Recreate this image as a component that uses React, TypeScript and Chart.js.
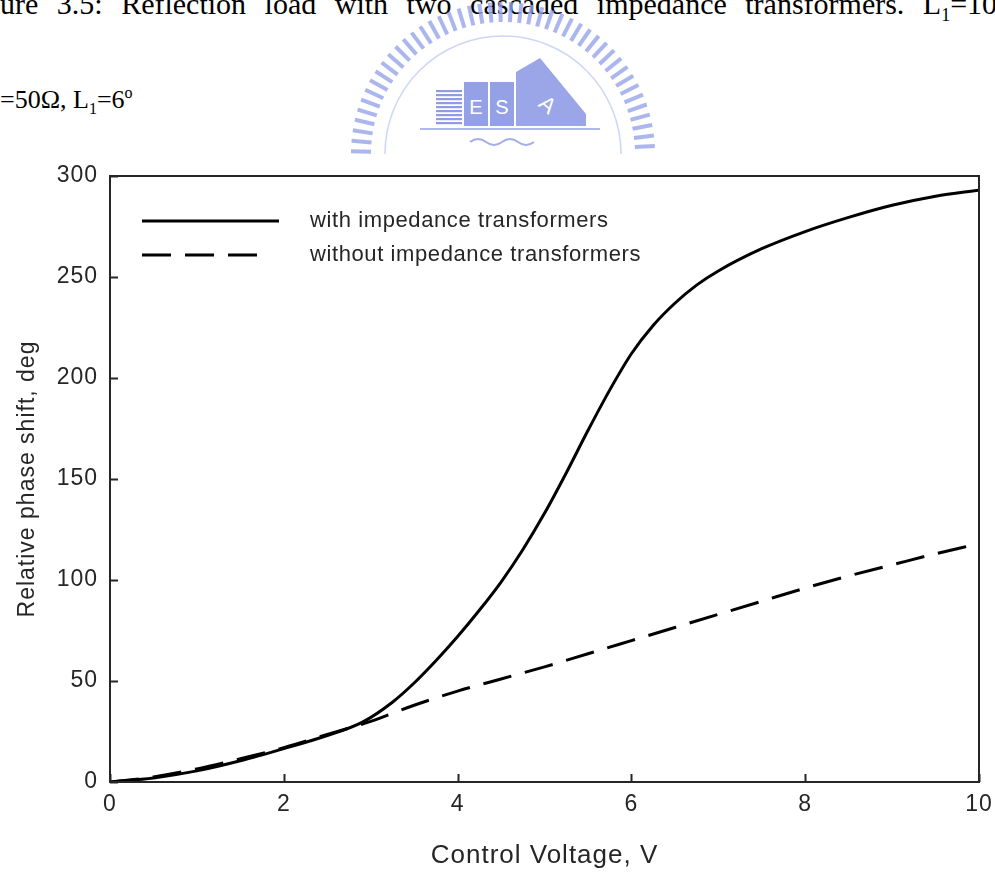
import React, { useEffect, useRef } from "react";
import { Chart, registerables } from "chart.js";

Chart.register(...registerables);

// Phase shift with the two cascaded impedance transformers
const withVoltage = [0, 0.5, 1, 1.5, 2, 2.5, 2.9, 3.25, 3.5, 3.75, 4, 4.25, 4.5, 4.75, 5, 5.25, 5.5, 5.75, 6, 6.25, 6.5, 6.75, 7, 7.5, 8, 8.5, 9, 9.5, 10];
const withPhase = [0, 2, 5.5, 10.5, 16.5, 23, 29.5, 39.5, 49, 60, 72, 85, 99, 115, 133, 153, 174, 194, 212, 226, 237, 246, 253, 264, 272.5, 279.5, 285.5, 290, 293];

// Phase shift of the bare reflection load
const withoutVoltage = [0, 0.5, 1, 1.5, 2, 2.5, 3, 3.5, 4, 4.5, 5, 5.5, 6, 6.5, 7, 7.5, 8, 8.5, 9, 9.5, 10];
const withoutPhase = [0, 2.5, 6.5, 11.5, 17, 23.5, 30, 38, 45, 51, 57, 63.5, 70, 76.5, 83, 89.5, 96, 102, 107.5, 113, 118];

const xTickValues = [0, 2, 4, 6, 8, 10];
const yTickValues = [0, 50, 100, 150, 200, 250, 300];

const seriesNames = ["with impedance transformers", "without impedance transformers"];
const xTitle = "Control Voltage, V";
const yTitle = "Relative phase shift, deg";

const captionTop = "ure 3.5: Reflection load with two cascaded impedance transformers. L";
const captionTopTail = "=10";

const FONT = "'Liberation Sans', Arial, sans-serif";
const INK = "#262626";
const DASH = [29, 14];

const frameAndLegend = {
  id: "frameAndLegend",
  beforeDraw(chart: any) {
    chart.ctx.letterSpacing = "1px";
  },
  afterDraw(chart: any) {
    const { ctx, chartArea: a, scales } = chart;
    ctx.save();
    ctx.strokeStyle = INK;
    ctx.lineWidth = 2;
    ctx.strokeRect(a.left, a.top, a.right - a.left, a.bottom - a.top);

    // tick marks point into the plot
    ctx.beginPath();
    scales.x.ticks.forEach((t: any) => {
      const px = Math.round(scales.x.getPixelForValue(t.value)) + 0.5;
      ctx.moveTo(px, a.bottom);
      ctx.lineTo(px, a.bottom - 8);
    });
    scales.y.ticks.forEach((t: any) => {
      const py = Math.round(scales.y.getPixelForValue(t.value)) + 0.5;
      ctx.moveTo(a.left, py);
      ctx.lineTo(a.left + 8, py);
    });
    ctx.stroke();

    // legend inside the plot, upper left
    const rows = chart.data.datasets;
    const x0 = a.left + 32;
    const rowY = [a.top + 45, a.top + 79];
    const lens = [137, 125];
    rows.forEach((ds: any, i: number) => {
      ctx.beginPath();
      ctx.setLineDash(ds.borderDash || []);
      ctx.lineWidth = ds.borderWidth;
      ctx.strokeStyle = ds.borderColor;
      ctx.moveTo(x0, rowY[i]);
      ctx.lineTo(x0 + lens[i], rowY[i]);
      ctx.stroke();
      ctx.setLineDash([]);
      ctx.fillStyle = INK;
      ctx.font = `22px ${FONT}`;
      ctx.letterSpacing = "0.6px";
      ctx.textAlign = "left";
      ctx.textBaseline = "middle";
      ctx.fillText(ds.label, a.left + 200, rowY[i]);
    });
    ctx.restore();
  },
};

function Logo() {
  const cx = 503;
  const cy = 154;
  const spokes = [];
  for (let deg = 181; deg <= 359; deg += 4) {
    const r = (deg * Math.PI) / 180;
    spokes.push(
      <line
        key={deg}
        x1={cx + Math.cos(r) * 132}
        y1={cy + Math.sin(r) * 132}
        x2={cx + Math.cos(r) * 152}
        y2={cy + Math.sin(r) * 152}
        stroke="#97a5ec"
        strokeWidth={4}
      />
    );
  }
  const stripes = [];
  for (let y = 90; y < 126; y += 4) {
    stripes.push(<rect key={y} x={436} y={y} width={26} height={2.2} fill="#7384dd" />);
  }
  return (
    <svg width={995} height={175} style={{ position: "absolute", left: 0, top: 0, opacity: 0.8 }}>
      {spokes}
      <path d={`M ${cx - 118} ${cy} A 118 118 0 0 1 ${cx + 118} ${cy}`} fill="none" stroke="#c3ccf4" strokeWidth={1.5} />
      {stripes}
      <rect x={464} y={82} width={24} height={44} fill="#7a8ae0" />
      <text x={476} y={114} fontSize={20} fontFamily={FONT} fill="#ffffff" textAnchor="middle">E</text>
      <rect x={490} y={82} width={24} height={44} fill="#7a8ae0" />
      <text x={502} y={114} fontSize={20} fontFamily={FONT} fill="#ffffff" textAnchor="middle">S</text>
      <polygon points="516,72 540,58 586,114 586,126 516,126" fill="#8190e2" />
      <text x={548} y={112} fontSize={22} fontFamily={FONT} fill="#ffffff" textAnchor="middle" transform="rotate(40 548 104)">A</text>
      <line x1={420} y1={129} x2={600} y2={129} stroke="#9aa6ea" strokeWidth={2} />
      <path d="M 470 142 q 8 -6 16 0 t 16 0 t 16 0 t 16 0" fill="none" stroke="#8c9ae6" strokeWidth={2} />
    </svg>
  );
}

export default function App() {
  const canvasRef = useRef<HTMLCanvasElement | null>(null);

  useEffect(() => {
    const canvas = canvasRef.current;
    if (!canvas) return;
    const chart = new Chart(canvas, {
      type: "line",
      data: {
        datasets: [
          {
            label: seriesNames[0],
            data: withVoltage.map((v, i) => ({ x: v, y: withPhase[i] })),
            borderColor: "#000000",
            borderWidth: 3,
            pointRadius: 0,
            cubicInterpolationMode: "monotone",
            fill: false,
          },
          {
            label: seriesNames[1],
            data: withoutVoltage.map((v, i) => ({ x: v, y: withoutPhase[i] })),
            borderColor: "#000000",
            borderWidth: 3,
            borderDash: DASH,
            pointRadius: 0,
            cubicInterpolationMode: "monotone",
            fill: false,
          },
        ],
      },
      options: {
        animation: false,
        responsive: false,
        devicePixelRatio: 1,
        layout: { padding: { top: 176, right: 16, bottom: 0, left: 0 } },
        plugins: { legend: { display: false }, tooltip: { enabled: false } },
        scales: {
          x: {
            type: "linear",
            min: 0,
            max: 10,
            afterBuildTicks: (s: any) => {
              s.ticks = xTickValues.map((v) => ({ value: v }));
            },
            afterFit: (s: any) => {
              s.height = 93;
              s.paddingLeft = 0;
              s.paddingRight = 0;
            },
            grid: { display: false, drawTicks: false },
            border: { display: false },
            ticks: { color: INK, padding: 9, font: { family: FONT, size: 23 } },
            title: {
              display: true,
              text: xTitle,
              color: INK,
              font: { family: FONT, size: 26 },
              padding: { top: 0, bottom: 4 },
            },
          },
          y: {
            type: "linear",
            min: 0,
            max: 300,
            afterBuildTicks: (s: any) => {
              s.ticks = yTickValues.map((v) => ({ value: v }));
            },
            afterFit: (s: any) => {
              s.width = 110;
              s.paddingTop = 0;
              s.paddingBottom = 0;
            },
            grid: { display: false, drawTicks: false },
            border: { display: false },
            ticks: { color: INK, padding: 12, font: { family: FONT, size: 23 } },
            title: {
              display: true,
              text: yTitle,
              color: INK,
              font: { family: FONT, size: 23 },
              padding: { top: 14, bottom: 0 },
            },
          },
        },
      },
      plugins: [frameAndLegend],
    });
    return () => chart.destroy();
  }, []);

  return (
    <div style={{ position: "absolute", left: 0, top: 0, width: 995, height: 875, background: "#ffffff", overflow: "hidden" }}>
      <div
        style={{
          position: "absolute",
          left: 0,
          top: -13,
          fontFamily: "'Liberation Serif', 'Times New Roman', serif",
          fontSize: 30,
          wordSpacing: 11,
          whiteSpace: "nowrap",
          color: "#000",
        }}
      >
        {captionTop}
        <sub style={{ fontSize: 18 }}>1</sub>
        {captionTopTail}
      </div>
      <div
        style={{
          position: "absolute",
          left: 0,
          top: 84,
          fontFamily: "'Liberation Serif', 'Times New Roman', serif",
          fontSize: 26,
          whiteSpace: "nowrap",
          color: "#000",
        }}
      >
        =50Ω, L<sub style={{ fontSize: 16 }}>1</sub>=6<sup style={{ fontSize: 16 }}>o</sup>
      </div>
      <Logo />
      <canvas ref={canvasRef} width={995} height={875} style={{ position: "absolute", left: 0, top: 0 }} />
    </div>
  );
}
